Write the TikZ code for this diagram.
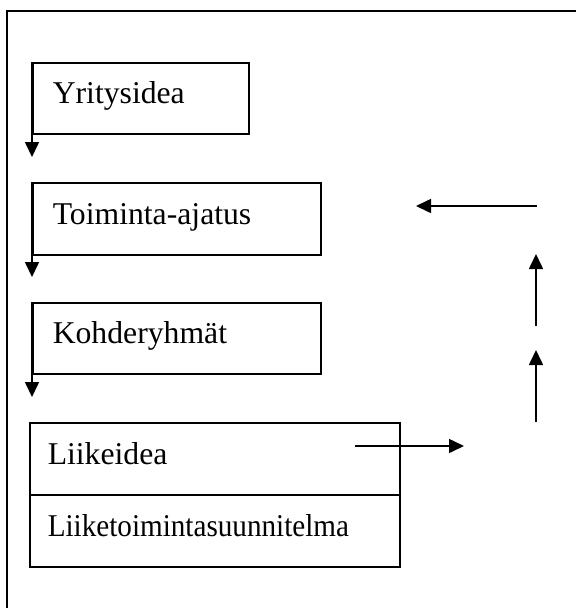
\documentclass[tikz,border=0pt]{standalone}
\usepackage{fontspec}
\setmainfont{Liberation Serif}
\usetikzlibrary{arrows.meta}
\begin{document}
\begin{tikzpicture}[x=1pt,y=-1pt,
  every node/.style={font=\fontsize{31.7}{38}\selectfont},
  stepbox/.style={draw, line width=1.5pt, rectangle, anchor=north west,
    inner xsep=20pt, inner ysep=0pt, align=left,
    text height=17pt, text depth=6pt},
  arr/.style={line width=1.6pt, -{Triangle[length=15pt,width=14pt]}},
  frameline/.style={line width=1.5pt}]
  \useasboundingbox (0,0) rectangle (576,608);
  % outer frame (open towards the right and bottom edges)
  \coordinate (fr) at (576,11);
  \coordinate (fc) at (7,11);
  \coordinate (fb) at (7,608);
  \draw[frameline] (fr) -- (fc) -- (fb);

  % chain of boxes
  \node[stepbox, text width=176pt, minimum height=71pt] (y) at (32,62) {Yritysidea};
  \node[stepbox, text width=248pt, minimum height=72pt] (t) at (32,182) {Toiminta-ajatus};
  \node[stepbox, text width=248pt, minimum height=71pt] (k) at (32,302) {Kohderyhmät};
  \node[stepbox, inner xsep=18pt, text width=334pt, minimum height=72pt] (l) at (29,422) {Liikeidea};
  \node[stepbox, inner xsep=18pt, text width=334pt, minimum height=72pt] (s) at (29,494)
    {\scalebox{0.92}[1]{Liiketoimintasuunnitelma}};

  % downward arrows along the left edges
  \coordinate (ye) at (32,157);
  \coordinate (te) at (32,277);
  \coordinate (ke) at (32,397);
  \draw[arr] (y.north west) -- (ye);
  \draw[arr] (t.north west) -- (te);
  \draw[arr] (k.north west) -- (ke);

  % feedback loop on the right
  \coordinate (ls) at (355,446);
  \coordinate (le) at (464,446);
  \coordinate (u1s) at (536,422);
  \coordinate (u1e) at (536,350);
  \coordinate (u2s) at (536,326);
  \coordinate (u2e) at (536,254);
  \coordinate (bs) at (537,206);
  \coordinate (be) at (416,206);
  \draw[arr] (ls) -- (le);
  \draw[arr] (u1s) -- (u1e);
  \draw[arr] (u2s) -- (u2e);
  \draw[arr] (bs) -- (be);
\end{tikzpicture}
\end{document}
